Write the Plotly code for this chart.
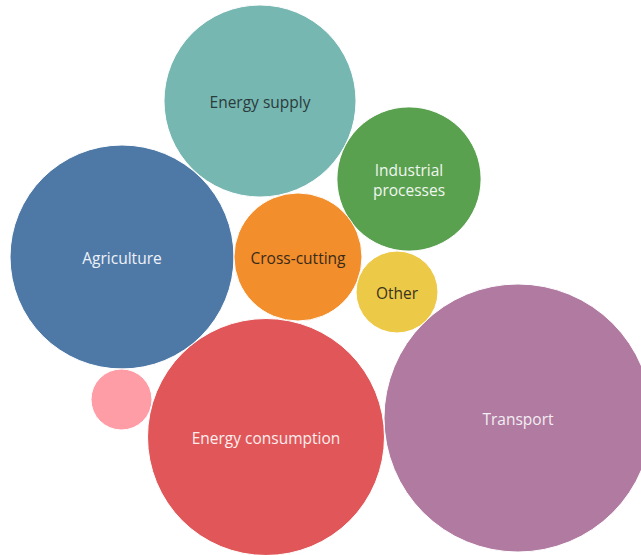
import math
import plotly.graph_objects as go

# Data
categories = ["Transport", "Energy consumption", "Agriculture", "Energy supply",
              "Industrial processes", "Cross-cutting", "Other", "Waste"]
values = [179.6, 140.4, 125.4, 92.2, 52.0, 41.0, 16.8, 9.3]
labels = ["Transport", "Energy consumption", "Agriculture", "Energy supply",
          "Industrial<br>processes", "Cross-cutting", "Other", ""]

# Packed-bubble layout positions (pixel space)
pos_x = [518, 266, 122, 260, 409, 298, 397, 121.5]
pos_y = [418, 437, 257, 101, 179, 257, 292, 399.5]

# Styles
colors = ["#b07aa1", "#e15759", "#4e79a7", "#76b7b2", "#59a14f", "#f28e2b", "#edc948", "#ff9da7"]
label_colors = ["#f3eef3", "#fbeeee", "#eef2f7", "#2b3b3b", "#f0f6ef", "#3a2a1a", "#3a3320", "#333333"]
SCALE = 10.0  # radius = SCALE * sqrt(value)
LABEL_DY = 3  # small vertical nudge for label baseline

fig = go.Figure()
shapes = []
for v, cx, cy, c in zip(values, pos_x, pos_y, colors):
    r = SCALE * math.sqrt(v)
    shapes.append(dict(type="circle", xref="x", yref="y",
                       x0=cx - r, x1=cx + r, y0=cy - r, y1=cy + r,
                       fillcolor=c, line=dict(color="white", width=1), layer="below"))

fig.add_trace(go.Scatter(
    x=pos_x, y=[y + LABEL_DY for y in pos_y], mode="text", text=labels,
    textfont=dict(family="Open Sans, Noto Sans, sans-serif", size=15.5, color=label_colors),
    hoverinfo="skip", showlegend=False))

fig.update_layout(
    width=641, height=555, autosize=False,
    margin=dict(l=0, r=0, t=0, b=0),
    paper_bgcolor="white", plot_bgcolor="white",
    shapes=shapes,
    xaxis=dict(range=[0, 641], visible=False, fixedrange=True),
    yaxis=dict(range=[555, 0], visible=False, fixedrange=True),
    showlegend=False,
)

fig.write_html("out.html", config={"displayModeBar": False},
               post_script="document.body.style.margin='0';document.body.style.overflow='hidden';")
